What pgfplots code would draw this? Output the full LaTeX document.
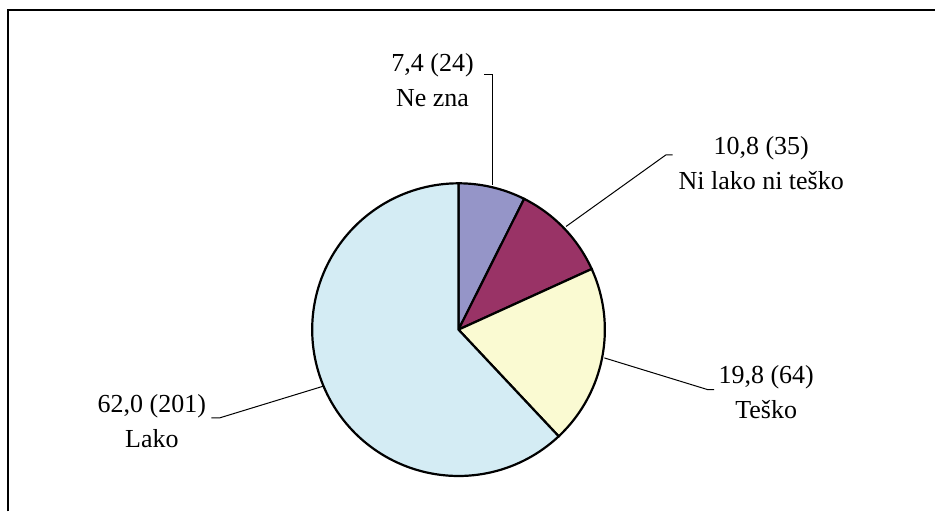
\documentclass[border=0pt]{standalone}
\usepackage{pgfplots}
\pgfplotsset{compat=1.18}
\usepackage{fontspec}
\setmainfont{Liberation Serif}
\definecolor{cNe}{RGB}{149,149,200}
\definecolor{cNi}{RGB}{153,51,102}
\definecolor{cTe}{RGB}{250,250,210}
\definecolor{cLa}{RGB}{212,236,244}
% shares (percent), order clockwise from 12 o'clock
\def\vNe{7.4}\def\vNi{10.8}\def\vTe{19.8}\def\vLa{62.0}
\pgfmathsetmacro{\aA}{3.6*\vNe}
\pgfmathsetmacro{\aB}{\aA+3.6*\vNi}
\pgfmathsetmacro{\aC}{\aB+3.6*\vTe}
\pgfmathsetmacro{\aD}{\aC+3.6*\vLa}
\def\cx{459}\def\cy{330}\def\R{146.5}
\begin{document}
\begin{tikzpicture}
\begin{axis}[scale only axis, width=468pt, height=256pt,
  xmin=0, xmax=936, ymin=0, ymax=512, y dir=reverse,
  hide axis, clip=false]
\path (axis cs:0,0) rectangle (axis cs:936,512);
\draw[line width=1pt] (axis cs:8.5,512) -- (axis cs:8.5,10.5) -- (axis cs:936,10.5);
\addplot[draw=black, line width=1.1pt, fill=cNe, domain=0:\aA, samples=30, variable=\t]
  ({\cx+\R*sin(\t)},{\cy-\R*cos(\t)}) -- (axis cs:\cx,\cy) -- cycle;
\addplot[draw=black, line width=1.1pt, fill=cNi, domain=\aA:\aB, samples=30, variable=\t]
  ({\cx+\R*sin(\t)},{\cy-\R*cos(\t)}) -- (axis cs:\cx,\cy) -- cycle;
\addplot[draw=black, line width=1.1pt, fill=cTe, domain=\aB:\aC, samples=40, variable=\t]
  ({\cx+\R*sin(\t)},{\cy-\R*cos(\t)}) -- (axis cs:\cx,\cy) -- cycle;
\addplot[draw=black, line width=1.1pt, fill=cLa, domain=\aC:\aD, samples=120, variable=\t]
  ({\cx+\R*sin(\t)},{\cy-\R*cos(\t)}) -- (axis cs:\cx,\cy) -- cycle;
% leader lines
\draw[line width=0.5pt] (axis cs:485,75) -- (axis cs:493,75) -- (axis cs:493,185);
\draw[line width=0.5pt] (axis cs:566.7,226.7) -- (axis cs:666.7,155) -- (axis cs:673.3,155);
\draw[line width=0.5pt] (axis cs:605,358.3) -- (axis cs:708.3,390) -- (axis cs:715,390);
\draw[line width=0.5pt] (axis cs:323.3,386.7) -- (axis cs:220,418.3) -- (axis cs:211.7,418.3);
% labels
\tikzset{lbl/.style={align=center, inner sep=0pt, font=\fontsize{13}{17.5}\selectfont}}
\node[lbl] at (axis cs:433,80.5) {7,4 (24)\\Ne zna};
\node[lbl] at (axis cs:762,163) {10,8 (35)\\Ni lako ni teško};
\node[lbl] at (axis cs:767,393) {19,8 (64)\\Teško};
\node[lbl] at (axis cs:152,421.5) {62,0 (201)\\Lako};
\end{axis}
\end{tikzpicture}
\end{document}
